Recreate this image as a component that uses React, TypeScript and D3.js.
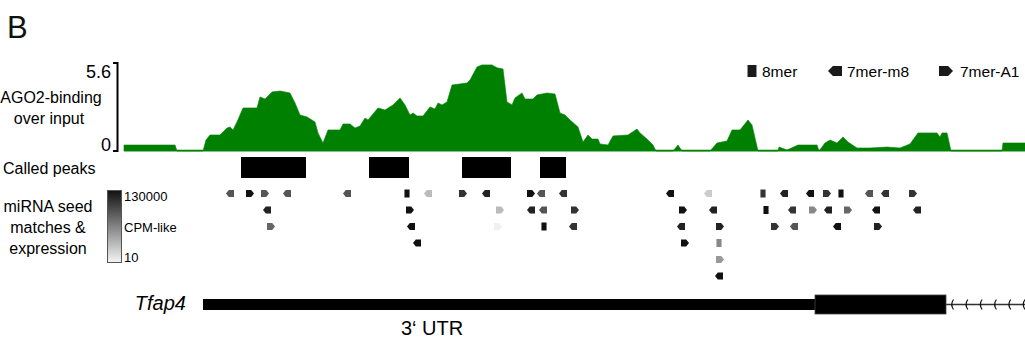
import React from 'react';
import * as d3 from 'd3';

// AGO2 binding over input: [position, value]
const ago2Profile: [number, number][] = [
  [0, 0.38], [51, 0.38], [53, 0], [79, 0], [82, 0.7], [86, 1.02], [96, 1.02], [103, 1.46],
  [106, 1.53], [109, 1.34], [113, 1.85], [119, 2.74], [133, 2.74], [136, 3.44], [141, 3.31],
  [148, 3.76], [156, 3.82], [166, 3.69], [171, 3.06], [176, 2.29], [183, 2.17], [191, 1.85],
  [194, 1.15], [199, 0.51], [204, 1.34], [216, 1.34], [219, 1.72], [226, 1.72], [231, 1.46],
  [236, 1.59], [241, 2.1], [244, 1.97], [254, 2.74], [261, 2.61], [269, 2.93], [276, 3.38],
  [281, 2.93], [286, 2.29], [289, 2.42], [293, 2.23], [299, 2.23], [306, 2.8], [311, 2.68],
  [314, 3.06], [318, 2.93], [323, 3.12], [328, 4.2], [343, 4.33], [346, 4.52], [353, 5.35],
  [358, 5.48], [368, 5.48], [373, 5.29], [379, 5.22], [383, 3.12], [388, 2.93], [391, 3.38],
  [398, 3.69], [401, 3.31], [409, 3.31], [413, 3.57], [423, 3.69], [431, 3.63], [436, 2.42],
  [441, 2.29], [446, 1.97], [454, 1.53], [459, 0.57], [464, 1.02], [468, 0.76], [474, 0.76],
  [476, 0.45], [484, 0.38], [489, 0.96], [504, 1.02], [513, 1.4], [516, 1.15], [523, 0.76],
  [529, 0.38], [532, 0], [549, 0], [554, 0.38], [558, 0], [586, 0], [593, 0.51], [603, 0.64],
  [608, 1.34], [616, 1.34], [624, 1.97], [628, 1.66], [634, 0], [654, 0], [655, 0.25],
  [663, 0.06], [674, 0.38], [693, 0.38], [695, 0], [701, 0.51], [706, 0.7], [713, 0.51],
  [719, 0.89], [724, 0.57], [733, 0.19], [746, 0.19], [763, 0.25], [776, 0.19], [786, 0.45],
  [794, 1.15], [813, 1.15], [816, 0.89], [818, 1.15], [823, 1.15], [827, 0], [878, 0],
  [879, 0.51], [901, 0.51],
];

const calledPeaks: [number, number][] = [[117, 182], [245, 285], [338, 387], [416, 442]];

const seedTypes = ['8mer', '7mer-m8', '7mer-A1'];

// [position, row, type, CPM-like expression]
const seedMatches: [number, number, string, number][] = [
  [106, 0, '7mer-m8', 7700], [126, 0, '7mer-A1', 130000], [141, 0, '7mer-A1', 7700],
  [163, 0, '7mer-m8', 7700], [223, 0, '7mer-m8', 7700], [283, 0, '8mer', 130000],
  [304, 0, '7mer-m8', 110], [339, 0, '7mer-A1', 32000], [362, 0, '7mer-m8', 64000],
  [407, 0, '7mer-A1', 130000], [417, 0, '7mer-m8', 7700], [439, 0, '7mer-m8', 32000],
  [546, 0, '7mer-m8', 130000], [584, 0, '7mer-m8', 55], [639, 0, '8mer', 32000],
  [660, 0, '7mer-m8', 64000], [686, 0, '7mer-m8', 130000], [703, 0, '7mer-A1', 32000],
  [717, 0, '8mer', 130000], [745, 0, '7mer-m8', 7700], [761, 0, '7mer-m8', 32000],
  [789, 0, '7mer-A1', 32000],
  [143, 1, '7mer-m8', 64000], [286, 1, '7mer-A1', 130000], [376, 1, '7mer-A1', 110],
  [407, 1, '7mer-m8', 64000], [419, 1, '7mer-m8', 7700], [451, 1, '7mer-A1', 32000],
  [559, 1, '7mer-A1', 130000], [589, 1, '7mer-m8', 64000], [642, 1, '8mer', 130000],
  [668, 1, '7mer-m8', 32000], [689, 1, '7mer-A1', 930], [704, 1, '7mer-m8', 64000],
  [724, 1, '7mer-A1', 3800], [752, 1, '7mer-m8', 130000], [793, 1, '7mer-m8', 64000],
  [147, 2, '7mer-A1', 3800], [287, 2, '7mer-m8', 130000], [374, 2, '7mer-A1', 12],
  [420, 2, '8mer', 130000], [449, 2, '7mer-m8', 32000], [557, 2, '7mer-m8', 64000],
  [596, 2, '7mer-A1', 64000], [651, 2, '7mer-A1', 32000], [670, 2, '7mer-m8', 7700],
  [713, 2, '7mer-m8', 130000], [754, 2, '7mer-A1', 64000],
  [293, 3, '7mer-m8', 130000], [561, 3, '7mer-A1', 130000], [595, 3, '8mer', 930],
  [596, 4, '7mer-A1', 460],
  [595, 5, '7mer-m8', 130000],
];

const expressionTicks = ['130000', 'CPM-like', '10'];

// Tfap4 gene model: [start, end] of 3' UTR, CDS and intron
const utrSpan: [number, number] = [79, 691];
const cdsSpan: [number, number] = [691, 822];
const intronSpan: [number, number] = [822, 901];

const FONT = '"Liberation Sans", Arial, Helvetica, sans-serif';

function markerPath(type: string, w: number, h: number) {
  const hw = w / 2, hh = h / 2;
  if (type === '8mer') {
    const sw = w * 0.32;
    return `M${-sw},${-hh}H${sw}V${hh}H${-sw}Z`;
  }
  const tip = w * 0.35;
  if (type === '7mer-m8') {
    return `M${-hw},0L${-hw + tip},${-hh}H${hw}V${hh}H${-hw + tip}Z`;
  }
  return `M${hw},0L${hw - tip},${-hh}H${-hw}V${hh}H${hw - tip}Z`;
}

export default function App() {
  const x = d3.scaleLinear().domain([0, 901]).range([124, 1025]);
  const y = d3.scaleLinear().domain([0, 5.6]).range([151, 63]);
  const rowY = d3.scaleLinear().domain([0, 5]).range([193.5, 276]);
  const shade = d3.scaleLog<string>().domain([10, 130000]).range(['#f5f5f5', '#111111']);

  const area = d3.area<[number, number]>()
    .x(d => x(d[0]))
    .y0(y(0))
    .y1(d => y(d[1]));

  const chevrons = d3.range(intronSpan[0] + 6, intronSpan[1] + 1, 14.3);

  const legendX: Record<string, number> = { '8mer': 752, '7mer-m8': 835, '7mer-A1': 946 };
  const legendTextX: Record<string, number> = { '8mer': 762, '7mer-m8': 847, '7mer-A1': 960 };

  return (
    <div style={{ position: 'absolute', left: 0, top: 0 }}>
      <svg width={1025} height={343} style={{ display: 'block', fontFamily: FONT }}>
        <defs>
          <linearGradient id="cpmGrad" x1="0" y1="0" x2="0" y2="1">
            <stop offset="0%" stopColor={shade(130000)} />
            <stop offset="100%" stopColor={shade(10)} />
          </linearGradient>
        </defs>

        <text x={7} y={38} fontSize={31} fill="#111">B</text>

        {/* AGO2 track */}
        <text x={51} y={103} fontSize={16} textAnchor="middle">AGO2-binding</text>
        <text x={49} y={124} fontSize={16} textAnchor="middle">over input</text>
        <text x={111} y={y(5.6) + 15} fontSize={18} textAnchor="end">5.6</text>
        <text x={111} y={y(0)} fontSize={18} textAnchor="end">0</text>
        <path d={`M113,${y(5.6)}H117.5V${y(0)}H113`} fill="none" stroke="#000" strokeWidth={2} />
        <path d={area(ago2Profile) ?? ''} fill="#008000" stroke="#008000" strokeWidth={0.6} />
        <line x1={x(0)} x2={x(901)} y1={y(0) - 0.5} y2={y(0) - 0.5} stroke="#008000" strokeWidth={1.5} />

        {/* legend for seed types */}
        {seedTypes.map(t => (
          <g key={t}>
            <path d={markerPath(t, 14, t === '8mer' ? 12 : 10)} transform={`translate(${legendX[t]},71)`} fill="#1a1a1a" />
            <text x={legendTextX[t]} y={77} fontSize={15.5}>{t}</text>
          </g>
        ))}

        {/* called peaks */}
        <text x={3} y={174} fontSize={16}>Called peaks</text>
        {calledPeaks.map((p, i) => (
          <rect key={i} x={x(p[0])} y={157} width={x(p[1]) - x(p[0])} height={21} fill="#000" />
        ))}

        {/* seed matches */}
        <text x={48} y={212} fontSize={16} textAnchor="middle">miRNA seed</text>
        <text x={48} y={233} fontSize={16} textAnchor="middle">matches &amp;</text>
        <text x={48} y={254} fontSize={16} textAnchor="middle">expression</text>
        <rect x={107.5} y={190.5} width={14} height={72} fill="url(#cpmGrad)" stroke="#555" strokeWidth={1} />
        {expressionTicks.map((t, i) => (
          <text key={t} x={124} y={[201, 232, 262][i]} fontSize={13}>{t}</text>
        ))}
        {seedMatches.map((s, i) => (
          <path
            key={i}
            d={markerPath(s[2], 8, s[2] === '8mer' ? 8 : 7)}
            transform={`translate(${x(s[0])},${rowY(s[1])})`}
            fill={shade(s[3])}
          />
        ))}

        {/* gene model */}
        <text x={186} y={310} fontSize={20} fontStyle="italic" textAnchor="end">Tfap4</text>
        <line x1={x(intronSpan[0])} x2={x(intronSpan[1])} y1={304.5} y2={304.5} stroke="#333" strokeWidth={1.5} />
        {chevrons.map((c, i) => (
          <path key={i} d={`M${x(c) + 1.5},299.5Q${x(c) - 2},304.5 ${x(c) + 1.5},309.5`} fill="none" stroke="#111" strokeWidth={1.2} />
        ))}
        <rect x={x(utrSpan[0])} y={299} width={x(utrSpan[1]) - x(utrSpan[0])} height={11} fill="#000" />
        <rect x={x(cdsSpan[0])} y={295} width={x(cdsSpan[1]) - x(cdsSpan[0])} height={19} fill="#000" stroke="#444" strokeWidth={0.8} />
        <text x={432} y={335} fontSize={20} textAnchor="middle">3‘ UTR</text>
      </svg>
    </div>
  );
}
